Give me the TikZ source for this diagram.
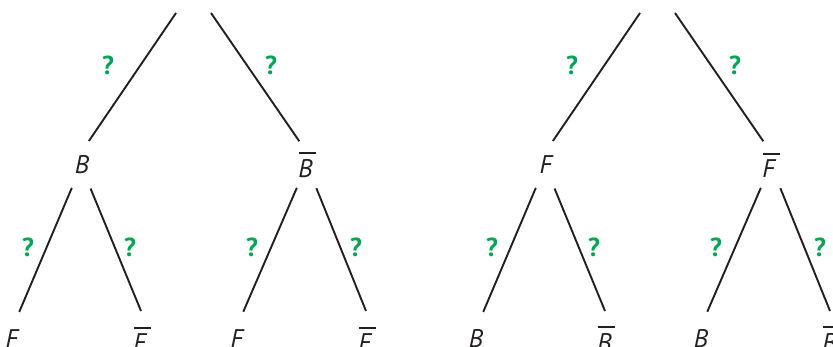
\documentclass[tikz,border=0pt]{standalone}
\usepackage{fontspec}
\setmainfont{PT Sans}
\usepackage{xcolor}
\definecolor{branchink}{RGB}{35,31,32}
\definecolor{askgreen}{RGB}{0,166,81}
\newcommand{\negbar}[1]{\setbox0\hbox{#1}%
  \vbox{\offinterlineskip
    \hbox{\kern 0.5pt\vrule height 1.9pt depth 0pt width 17pt}%
    \kern 5pt\box0}}
\tikzset{
  event/.style={circle, minimum size=50pt, inner sep=0pt, outer sep=0pt,
    font=\fontsize{25.5}{30}\selectfont\itshape, text=branchink},
  leaf/.style={event, minimum size=56pt},
  rootpt/.style={rectangle, minimum width=35pt, minimum height=0pt,
    inner sep=0pt, outer sep=0pt},
  branch/.style={branchink, line width=1.9pt},
  ask/.style={text=askgreen, font=\fontsize{26}{30}\selectfont\bfseries}
}

\begin{document}
\begin{tikzpicture}[x=1pt,y=-1pt]
\useasboundingbox (0,0) rectangle (833,347);
\clip (0,0) rectangle (833,347);

% 1. LEFT TREE (B first, then F)
\node[rootpt] (rootB) at (193.5,13) {};
\node[event] (b) at (82,165) {B};
\node[event] (bn) at (307,165) {\negbar{B}};
\node[leaf] (bf) at (12,339) {F};
\node[leaf] (bfn) at (142,339) {\negbar{F}};
\node[leaf] (bnf) at (237,339) {F};
\node[leaf] (bnfn) at (367,339) {\negbar{F}};

% Branches
\draw[branch] (rootB.west) -- (b.74);
\draw[branch] (rootB.east) -- (bn.108);
\draw[branch] (b.246) -- (bf.75);
\draw[branch] (b.290) -- (bfn.92);
\draw[branch] (bn.246) -- (bnf.77);
\draw[branch] (bn.292) -- (bnfn.92);

% Unknown probabilities
\node[ask] (qb1) at (108,65) {?};
\node[ask] (qb2) at (271,65) {?};
\node[ask] (qb3) at (28,247) {?};
\node[ask] (qb4) at (130,247) {?};
\node[ask] (qb5) at (252,247) {?};
\node[ask] (qb6) at (356,247) {?};

% 2. RIGHT TREE (F first, then B)
\node[rootpt] (rootF) at (657.5,13) {};
\node[event] (f) at (546,165) {F};
\node[event] (fn) at (771,165) {\negbar{F}};
\node[leaf] (fb) at (476,339) {B};
\node[leaf] (fbn) at (606,339) {\negbar{B}};
\node[leaf] (fnb) at (701,339) {B};
\node[leaf] (fnbn) at (831,339) {\negbar{B}};

% Branches
\draw[branch] (rootF.west) -- (f.74);
\draw[branch] (rootF.east) -- (fn.108);
\draw[branch] (f.246) -- (fb.75);
\draw[branch] (f.290) -- (fbn.92);
\draw[branch] (fn.246) -- (fnb.77);
\draw[branch] (fn.292) -- (fnbn.92);

% Unknown probabilities
\node[ask] (qf1) at (572,65) {?};
\node[ask] (qf2) at (735,65) {?};
\node[ask] (qf3) at (492,247) {?};
\node[ask] (qf4) at (594,247) {?};
\node[ask] (qf5) at (716,247) {?};
\node[ask] (qf6) at (820,247) {?};

\end{tikzpicture}
\end{document}
